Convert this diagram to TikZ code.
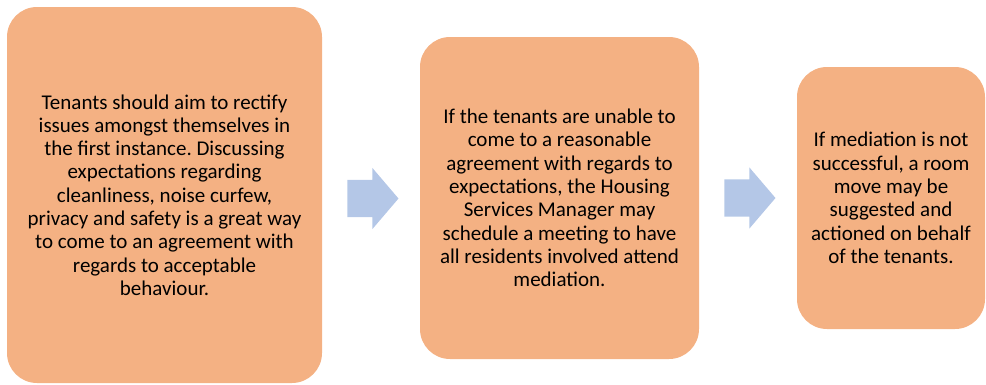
\documentclass[tikz,border=0pt]{standalone}
\usepackage{fontspec}
\setmainfont{Carlito}
\frenchspacing
\usetikzlibrary{shapes.arrows,calc}
\definecolor{boxorange}{HTML}{F4B183}
\definecolor{arrowblue}{HTML}{B4C7E7}
\tikzset{
  stagebox/.style={fill=boxorange, rounded corners=30pt, inner sep=0pt, align=center,
    font=\fontsize{21}{23.3}\selectfont, text=black},
  flowarrow/.style={single arrow, fill=arrowblue, inner xsep=0pt, inner ysep=18.5pt,
    minimum height=51pt, single arrow head extend=12pt, single arrow tip angle=99,
    xshift=-6pt}
}
\begin{document}
\begin{tikzpicture}[x=1pt,y=-1pt]
\useasboundingbox (0,0) rectangle (986,384);
% the three stages
\node[stagebox, minimum width=315pt, minimum height=376pt] (selfhelp) at (164.5,195)
  {Tenants should aim to rectify\\issues amongst themselves in\\the first instance. Discussing\\expectations regarding\\cleanliness, noise curfew,\\privacy and safety is a great way\\to come to an agreement with\\regards to acceptable\\behaviour.};
\node[stagebox, minimum width=279pt, minimum height=322pt] (mediation) at (559.5,198)
  {If the tenants are unable to\\come to a reasonable\\agreement with regards to\\expectations, the Housing\\Services Manager may\\schedule a meeting to have\\all residents involved attend\\mediation.};
\node[stagebox, minimum width=188pt, minimum height=262pt] (roommove) at (891,198)
  {If mediation is not\\successful, a room\\move may be\\suggested and\\actioned on behalf\\of the tenants.};
% arrows between them
\node[flowarrow, yshift=-2pt] (arrowA) at ($(selfhelp.east)!0.5!(mediation.west)$) {};
\node[flowarrow] (arrowB) at ($(mediation.east)!0.5!(roommove.west)$) {};
\end{tikzpicture}
\end{document}
